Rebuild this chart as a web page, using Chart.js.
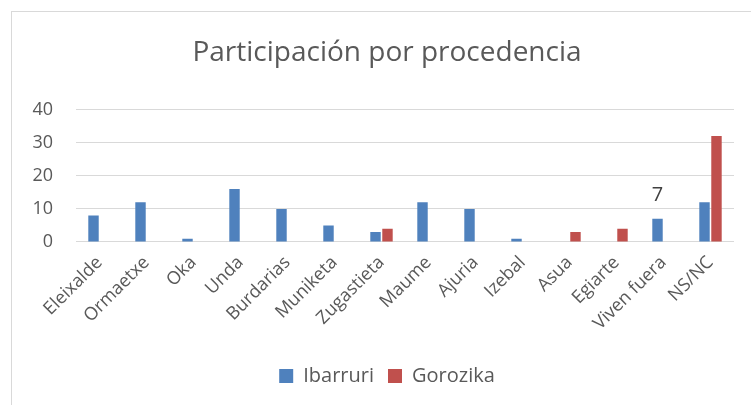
<!DOCTYPE html>
<html>
<head>
<meta charset="utf-8">
<script src="https://cdn.jsdelivr.net/npm/chart.js@4/dist/chart.umd.min.js"></script>
<style>
  body { margin: 0; background: #fff; overflow: hidden; }
  #box { position: absolute; left: 11px; top: 11px; width: 750px; height: 395px;
         border-left: 1px solid #d9d9d9; border-top: 1px solid #d9d9d9; }
</style>
</head>
<body>
<div id="box"><canvas id="procedencia" width="750" height="395"></canvas></div>
<script>
var categories = ['Eleixalde', 'Ormaetxe', 'Oka', 'Unda', 'Burdarias', 'Muniketa', 'Zugastieta',
                  'Maume', 'Ajuria', 'Izebal', 'Asua', 'Egiarte', 'Viven fuera', 'NS/NC'];
var ibarruri = [8, 12, 1, 16, 10, 5, 3, 12, 10, 1, 0, 0, 7, 12];
var gorozika = [0, 0, 0, 0, 0, 0, 4, 0, 0, 0, 3, 4, 0, 32];
var yTicks = [0, 10, 20, 30, 40];
// only one value label is shown in the original: [dataset, index]
var shownLabels = [[0, 12]];

var gray = '#595959';
var font = '"Open Sans", Lato, sans-serif';

var valueLabels = {
    id: 'valueLabels',
    afterDatasetsDraw: function (chart) {
        var c = chart.ctx;
        c.save();
        c.fillStyle = '#404040';
        c.font = '20px ' + font;
        c.textAlign = 'center';
        c.textBaseline = 'bottom';
        shownLabels.forEach(function (p) {
            var bar = chart.getDatasetMeta(p[0]).data[p[1]];
            var v = chart.data.datasets[p[0]].data[p[1]];
            c.fillText(v, bar.x, bar.y - 14);
        });
        c.restore();
    }
};

var ctx = document.getElementById('procedencia').getContext('2d');

var chart = new Chart(ctx, {
    type: 'bar',
    data: {
        labels: categories,
        datasets: [{
            label: 'Ibarruri',
            data: ibarruri,
            backgroundColor: '#4f81bd',
            categoryPercentage: 0.51,
            barPercentage: 0.87
        }, {
            label: 'Gorozika',
            data: gorozika,
            backgroundColor: '#c0504d',
            categoryPercentage: 0.51,
            barPercentage: 0.87
        }]
    },
    plugins: [valueLabels],
    options: {
        responsive: false,
        animation: false,
        layout: { padding: { left: 0, right: 0, top: 0, bottom: 11 } },
        plugins: {
            title: {
                display: true,
                text: 'Participación por procedencia',
                color: gray,
                font: { family: font, size: 28, weight: 'normal' },
                padding: { top: 24, bottom: 40 }
            },
            legend: {
                position: 'bottom',
                labels: {
                    color: gray,
                    font: { family: font, size: 20 },
                    boxWidth: 14,
                    boxHeight: 14,
                    padding: 14
                }
            },
            tooltip: { enabled: false }
        },
        scales: {
            x: {
                grid: { display: false },
                border: { display: false },
                ticks: {
                    color: gray,
                    font: { family: font, size: 18 },
                    maxRotation: 45,
                    minRotation: 45,
                    autoSkip: false,
                    padding: 2
                },
                afterFit: function (s) { s.height = 110; }
            },
            y: {
                min: 0,
                max: 40,
                afterBuildTicks: function (s) {
                    s.ticks = yTicks.map(function (v) { return { value: v }; });
                },
                grid: { color: '#d9d9d9', drawTicks: false },
                border: { display: false },
                ticks: {
                    color: gray,
                    font: { family: font, size: 18 },
                    padding: 23
                },
                afterFit: function (s) { s.width = 64; }
            },
            // empty right-hand spacer so the title and legend stay centred on the whole chart
            spacer: {
                position: 'right',
                grid: { display: false },
                border: { display: false },
                ticks: { display: false },
                afterFit: function (s) { s.width = 28; }
            }
        }
    }
});
</script>
</body>
</html>
